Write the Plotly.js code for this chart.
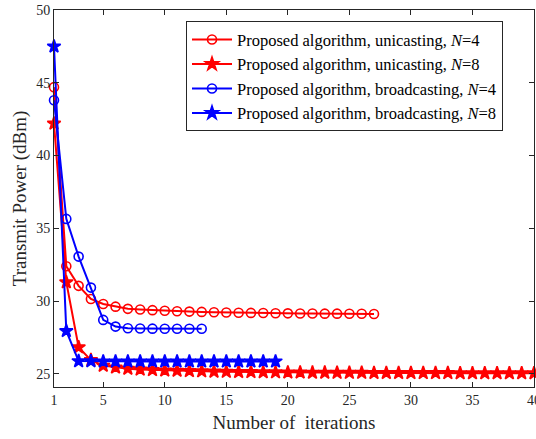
<!DOCTYPE html>
<html><head><meta charset="utf-8">
<script src="https://cdn.plot.ly/plotly-3.0.1.min.js"></script>
<style>body{margin:0;padding:0;background:#fff}#chart{width:536px;height:439px}</style>
</head><body><div id="chart"></div>
<script>
const xUniN4 = Array.from({length:27},(_,i)=>i+1);
const yUniN4 = [44.7,32.4,31.05,30.15,29.8,29.62,29.47,29.42,29.38,29.34,29.3,29.28,29.26,29.24,29.22,29.2,29.19,29.18,29.17,29.16,29.15,29.15,29.14,29.14,29.13,29.13,29.12];
const xUniN8 = Array.from({length:40},(_,i)=>i+1);
const yUniN8 = [42.2,31.3,26.83,25.95,25.57,25.45,25.36,25.3,25.27,25.24,25.22,25.2,25.18,25.16,25.15,25.14,25.13,25.12,25.11,25.1,25.1,25.09,25.09,25.08,25.08,25.08,25.07,25.07,25.07,25.06,25.06,25.06,25.06,25.05,25.05,25.05,25.05,25.05,25.05,25.05];
const xBroN4 = Array.from({length:13},(_,i)=>i+1);
const yBroN4 = [43.8,35.65,33.06,30.93,28.71,28.25,28.14,28.12,28.11,28.1,28.1,28.1,28.1];
const xBroN8 = Array.from({length:19},(_,i)=>i+1);
const yBroN8 = [47.5,27.95,25.88,25.87,25.86,25.86,25.86,25.86,25.86,25.86,25.86,25.86,25.86,25.86,25.86,25.86,25.86,25.86,25.86];
const names = ['Proposed algorithm, unicasting, <i>N</i>=4','Proposed algorithm, unicasting, <i>N</i>=8','Proposed algorithm, broadcasting, <i>N</i>=4','Proposed algorithm, broadcasting, <i>N</i>=8'];
const xTicks = [1,5,10,15,20,25,30,35,40];
const yTicks = [25,30,35,40,45,50];
const FONT = 'Liberation Serif';

function tr(x,y,name,color,sym,size){
  return {x:x,y:y,name:name,type:'scatter',mode:'lines+markers',
    line:{color:color,width:2},
    marker:{symbol:sym,size:size,color:color,line:{color:color,width:1.6}},cliponaxis:false};
}
const data = [
  tr(xUniN4,yUniN4,names[0],'#ff0000','circle-open',9),
  tr(xUniN8,yUniN8,names[1],'#ff0000','star',10),
  tr(xBroN4,yBroN4,names[2],'#0000ff','circle-open',9),
  tr(xBroN8,yBroN8,names[3],'#0000ff','star',10)
];
const axisCommon = {showline:true,mirror:'ticks',linecolor:'#262626',linewidth:1,ticks:'inside',ticklen:5,tickcolor:'#262626',showgrid:false,zeroline:false,ticklabeloverflow:'allow',tickfont:{family:FONT,size:14,color:'#262626'}};
const layout = {
  width:536,height:439,
  margin:{l:54,r:2,t:10,b:52},
  paper_bgcolor:'#fff',plot_bgcolor:'#fff',
  font:{family:FONT,color:'#000'},
  xaxis:Object.assign({},axisCommon,{range:[1,40],tickvals:xTicks,ticktext:xTicks.map(String),
    title:{text:'Number of  iterations',font:{family:FONT,size:19,color:'#262626'},standoff:8}}),
  yaxis:Object.assign({},axisCommon,{range:[24.1,50],tickvals:yTicks,ticktext:yTicks.map(String),
    title:{text:'Transmit Power (dBm)',font:{family:FONT,size:19,color:'#262626'},standoff:4}}),
  legend:{x:0.275,y:0.97,xanchor:'left',yanchor:'top',bgcolor:'#fff',bordercolor:'#262626',borderwidth:1,
    font:{family:FONT,size:16.5,color:'#000'},tracegroupgap:0,itemwidth:40},
  showlegend:true
};
Plotly.newPlot('chart',data,layout,{displayModeBar:false,staticPlot:true});
</script></body></html>
